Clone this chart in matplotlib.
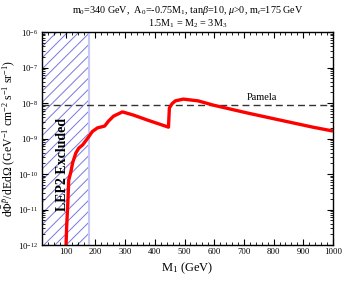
import matplotlib
matplotlib.use("Agg")
import matplotlib.pyplot as plt
import numpy as np
from matplotlib.ticker import LogLocator, MultipleLocator, NullFormatter

plt.rcParams['font.family'] = ['Liberation Serif', 'DejaVu Serif']
plt.rcParams['mathtext.fontset'] = 'custom'
plt.rcParams['mathtext.rm'] = 'Liberation Serif'
plt.rcParams['mathtext.it'] = 'Liberation Serif:italic'
plt.rcParams['mathtext.bf'] = 'Liberation Serif:bold'
plt.rcParams['hatch.linewidth'] = 0.7

# --- data ---
m1 = [100, 103, 107, 110, 117, 123, 134, 144, 157, 174, 190, 207, 231, 244,
      261, 291, 328, 375, 446, 449, 458, 469, 496, 546, 597, 711, 821, 932, 1000]
log_flux = [-12.3, -11.5, -10.82, -10.17, -9.95, -9.69, -9.41, -9.27, -9.18, -8.99,
            -8.80, -8.70, -8.65, -8.51, -8.37, -8.25, -8.34, -8.48, -8.68, -8.14,
            -8.02, -7.94, -7.89, -7.94, -8.06, -8.28, -8.48, -8.68, -8.79]
flux = [10.0 ** v for v in log_flux]

pamela_level = 9e-9
lep2_limit = 180
x_range = (20, 1000)
y_range = (1e-12, 1e-6)

fig = plt.figure(figsize=(3.43, 2.84), dpi=100)
ax = fig.add_axes([0.1224, 0.1373, 0.8484, 0.75])

# LEP2 excluded band
ax.axvspan(x_range[0], lep2_limit, facecolor='none', edgecolor='#7777e0',
           hatch='///', lw=0)
ax.axvline(lep2_limit, color='#c8c8f4', lw=1.5)

ax.axhline(pamela_level, color='#333333', ls=(0, (5, 3)), lw=1.0)
ax.plot(m1, flux, color='red', lw=2.4, solid_capstyle='butt')

ax.set_yscale('log')
ax.set_xlim(*x_range)
ax.set_ylim(*y_range)

ax.xaxis.set_major_locator(MultipleLocator(100))
ax.xaxis.set_minor_locator(MultipleLocator(20))
ax.yaxis.set_minor_locator(LogLocator(base=10, subs=np.arange(2, 10), numticks=20))
ax.yaxis.set_minor_formatter(NullFormatter())
ax.set_yticks([1e-12, 1e-11, 1e-10, 1e-9, 1e-8, 1e-7, 1e-6])
ax.set_yticklabels([r'$10^{-%d}$' % k for k in range(12, 5, -1)])
ax.set_xticks(range(100, 1001, 100))

ax.tick_params(which='both', direction='in', top=True, right=True, labelsize=6.3,
               pad=2.5)
ax.tick_params(which='major', length=4, width=0.8)
ax.tick_params(which='minor', length=2, width=0.6)
for s in ax.spines.values():
    s.set_linewidth(1.0)

ax.text(88, 10 ** -9.72, 'LEP2 Excluded', rotation=90, ha='center', va='center',
        fontsize=10, fontweight='bold')
ax.text(761, 10 ** -7.97, 'Pamela', ha='center', va='bottom', fontsize=7.5)

ax.set_xlabel(r'M$_1$ (GeV)', fontsize=9, labelpad=3)
ax.set_ylabel(r'd$\bar{\Phi}^{\bar{p}}$/dEd$\Omega$ (GeV$^{-1}$ cm$^{-2}$ s$^{-1}$ sr$^{-1}$)',
              fontsize=8.5, labelpad=1)
ax.set_title(r'm$_0$=340 GeV,  A$_0$=-0.75M$_1$, tan$\beta$=10, $\mu$>0, m$_t$=175 GeV'
             '\n' r'1.5M$_1$ = M$_2$ = 3M$_3$', fontsize=7.3, pad=4, linespacing=1.05)

fig.savefig('out.png', dpi=100)
